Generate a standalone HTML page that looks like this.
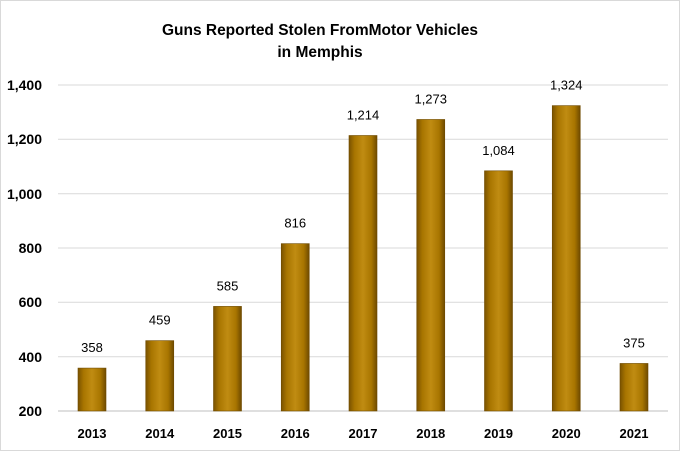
<!DOCTYPE html><html><head><style>body{margin:0;background:#fff}</style></head><body>
<svg width="681" height="452" xmlns="http://www.w3.org/2000/svg" font-family="Liberation Sans, sans-serif">
<defs><linearGradient id="g" x1="0" x2="1"><stop offset="0" stop-color="#7a5200"/><stop offset="0.2" stop-color="#a87500"/><stop offset="0.5" stop-color="#c08c12"/><stop offset="0.8" stop-color="#a87500"/><stop offset="1" stop-color="#6e4a00"/></linearGradient></defs>
<rect x="0.5" y="0.5" width="679" height="450" fill="#fff" stroke="#d9d9d9"/>
<text x="320" y="35" text-anchor="middle" font-size="15.5" font-weight="bold">Guns Reported Stolen FromMotor Vehicles</text>
<text x="320" y="57" text-anchor="middle" font-size="15.5" font-weight="bold">in Memphis</text>
<g stroke="#d9d9d9" stroke-width="1">
<line x1="58" x2="668" y1="85" y2="85"/><line x1="58" x2="668" y1="139.3" y2="139.3"/><line x1="58" x2="668" y1="193.7" y2="193.7"/><line x1="58" x2="668" y1="248" y2="248"/><line x1="58" x2="668" y1="302.3" y2="302.3"/><line x1="58" x2="668" y1="356.7" y2="356.7"/></g>
<line x1="58" x2="668" y1="411" y2="411" stroke="#bfbfbf"/>
<g font-size="14" font-weight="bold" text-anchor="end">
<text x="42" y="90">1,400</text><text x="42" y="144">1,200</text><text x="42" y="199">1,000</text><text x="42" y="253">800</text><text x="42" y="307">600</text><text x="42" y="362">400</text><text x="42" y="416">200</text></g>
<g id="bars"></g>
<g font-size="13" font-weight="bold" text-anchor="middle" id="xl"></g>
<g font-size="13" text-anchor="middle" id="vl"></g>
<script>
var d=[358,459,585,816,1214,1273,1084,1324,375],yrs=[2013,2014,2015,2016,2017,2018,2019,2020,2021];
var b=document.getElementById('bars'),xl=document.getElementById('xl'),vl=document.getElementById('vl'),ns='http://www.w3.org/2000/svg';
d.forEach(function(v,i){var cx=92+i*67.75,y=411-(v-200)*0.2717;
var r=document.createElementNS(ns,'rect');r.setAttribute('x',cx-14);r.setAttribute('y',y);r.setAttribute('width',28);r.setAttribute('height',411-y);r.setAttribute('fill','url(#g)');r.setAttribute('stroke','#6e4a00');r.setAttribute('stroke-width','0.6');b.appendChild(r);
var t=document.createElementNS(ns,'text');t.setAttribute('x',cx);t.setAttribute('y',438);t.textContent=yrs[i];xl.appendChild(t);
var s=document.createElementNS(ns,'text');s.setAttribute('x',cx);s.setAttribute('y',y-16);s.textContent=v.toLocaleString('en-US');vl.appendChild(s);});
</script>
</svg></body></html>
